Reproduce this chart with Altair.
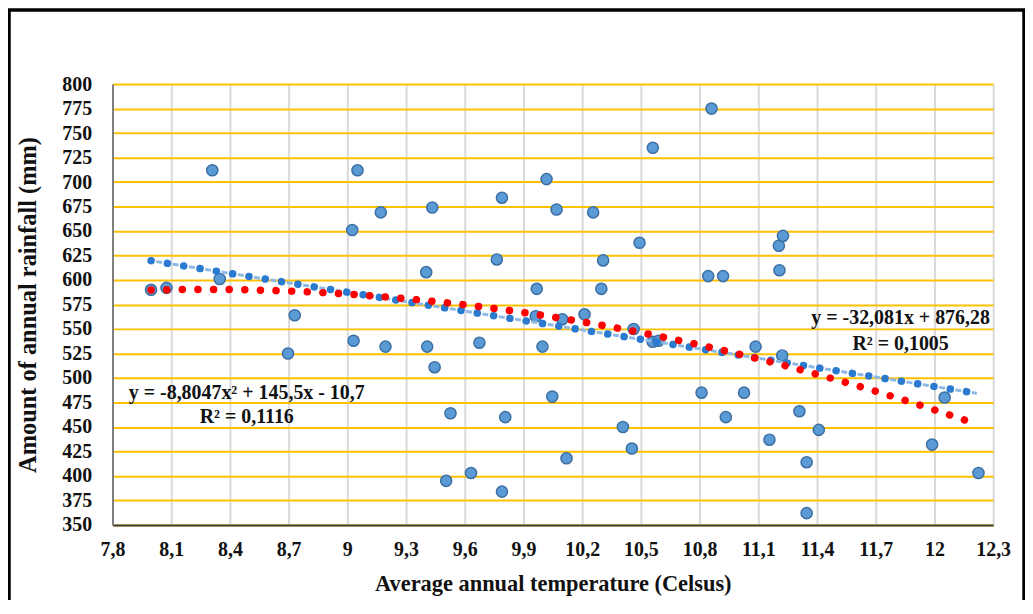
import altair as alt
import pandas as pd

# ---- data ----
temperature = [7.997, 8.076, 8.310, 8.348, 8.697, 8.731, 9.025, 9.032, 9.052, 9.171,
               9.195, 9.403, 9.408, 9.434, 9.446, 9.505, 9.527, 9.632, 9.675, 9.764,
               9.790, 9.790, 9.807, 9.963, 9.968, 9.997, 10.018, 10.047, 10.069, 10.098,
               10.120, 10.212, 10.256, 10.298, 10.307, 10.408, 10.454, 10.463, 10.493, 10.561,
               10.560, 10.590, 10.810, 10.844, 10.861, 10.920, 10.934, 11.027, 11.086, 11.157,
               11.205, 11.208, 11.222, 11.226, 11.310, 11.347, 11.347, 11.409, 11.988, 12.052,
               12.225]
rainfall = [590, 592, 712, 601, 525, 564, 651, 538, 712, 669,
            532, 608, 532, 674, 511, 395, 464, 403, 536, 621,
            684, 384, 460, 563, 591, 532, 703, 481, 672, 560,
            418, 565, 669, 591, 620, 450, 428, 550, 638, 735,
            537, 538, 485, 604, 775, 604, 460, 485, 532, 437,
            635, 610, 523, 645, 466, 414, 362, 447, 432, 480,
            403]

x_ticks = [7.8, 8.1, 8.4, 8.7, 9.0, 9.3, 9.6, 9.9, 10.2, 10.5, 10.8, 11.1, 11.4, 11.7, 12.0, 12.3]
y_ticks = [350, 375, 400, 425, 450, 475, 500, 525, 550, 575, 600, 625, 650, 675, 700, 725, 750, 775, 800]

# trendline coefficients as printed on the chart
lin_slope, lin_intercept = -32.081, 876.28
poly_a, poly_b, poly_c = -8.8047, 145.5, -10.7

eq_labels = ["y = -32,081x + 876,28", "R² = 0,1005", "y = -8,8047x² + 145,5x - 10,7", "R² = 0,1116"]
eq_x = [11.827, 11.827, 8.486, 8.486]
eq_y = [561.3, 534.9, 485.1, 459.7]

SERIF = "Liberation Serif"

df = pd.DataFrame({"temp": temperature, "rain": rainfall})
eq_df = pd.DataFrame({"label": eq_labels, "x": eq_x, "y": eq_y})

xscale = alt.Scale(domain=[7.8, 12.3], nice=False, zero=False)
yscale = alt.Scale(domain=[350, 800], nice=False, zero=False)

x_axis = alt.Axis(
    values=x_ticks,
    labelExpr="replace(toString(round(datum.value*10)/10), '.', ',')",
    ticks=False, grid=True, gridColor="#D9D9D9", gridWidth=2,
    domainColor="#404040", domainWidth=2,
    labelFont=SERIF, labelFontSize=20, labelFontWeight="bold", labelColor="#111111",
    labelPadding=15, labelFlush=False, labelOverlap=False,
    title="Average annual temperature (Celsus)", titleFont=SERIF, titleFontSize=22.5,
    titleFontWeight="bold", titleColor="#111111", titlePadding=13,
)
y_axis = alt.Axis(
    values=y_ticks,
    ticks=False, grid=True, gridColor="#FFC000", gridWidth=2,
    domainColor="#7F7F7F", domainWidth=2,
    labelFont=SERIF, labelFontSize=20, labelFontWeight="bold", labelColor="#111111",
    labelPadding=21, labelFlush=False, labelOverlap=False,
    title="Amount of annual rainfall (mm)", titleFont=SERIF, titleFontSize=24.5,
    titleFontWeight="bold", titleColor="#111111", titlePadding=21,
)


def X(field):
    return alt.X(field, type="quantitative", scale=xscale, axis=x_axis)


def Y(field):
    return alt.Y(field, type="quantitative", scale=yscale, axis=y_axis)


t_min, t_max = min(temperature), max(temperature)
seq = alt.sequence(t_min, t_max + 0.001, 0.01, as_="t")

points = alt.Chart(df).mark_circle(
    size=125, color="#5B9BD5", stroke="#3D6FA3", strokeWidth=1.5, opacity=1
).encode(x=X("temp"), y=Y("rain"))

lin_base = alt.Chart(seq).transform_calculate(
    lin=f"{lin_slope} * datum.t + {lin_intercept}"
)
lin_dash = lin_base.mark_line(
    color="#8DB9E4", strokeWidth=3, strokeDash=[6, 10.6], strokeDashOffset=11.3
).encode(x=X("t"), y=Y("lin"))
lin_dots = lin_base.mark_line(
    color="#2A7AD0", strokeWidth=7.5, strokeDash=[0.1, 16.5], strokeCap="round"
).encode(x=X("t"), y=Y("lin"))

poly_dots = alt.Chart(seq).transform_calculate(
    poly=f"{poly_a} * datum.t * datum.t + {poly_b} * datum.t + {poly_c}"
).mark_line(
    color="#FF0000", strokeWidth=7.5, strokeDash=[0.1, 15.6], strokeCap="round"
).encode(x=X("t"), y=Y("poly"))

texts = alt.Chart(eq_df).mark_text(
    font=SERIF, fontSize=20, fontWeight="bold", color="#111111",
    align="center", baseline="middle"
).encode(x=X("x"), y=Y("y"), text="label:N")

frame = alt.Chart(alt.Data(values=[{"k": 1}])).mark_rect(
    fillOpacity=0, stroke="#000000", strokeWidth=3.5
).encode(
    x=alt.value(-104), x2=alt.value(916), y=alt.value(-74.5), y2=alt.value(600)
)

chart = alt.layer(points, lin_dash, lin_dots, poly_dots, texts, frame).properties(
    width=885, height=443,
    autosize=alt.AutoSizeParams(type="none"),
    padding={"left": 105, "top": 75, "right": 32, "bottom": 74},
    background="white",
).configure_view(stroke="transparent")

chart.save("out.html", embed_options={"renderer": "svg", "actions": False})
